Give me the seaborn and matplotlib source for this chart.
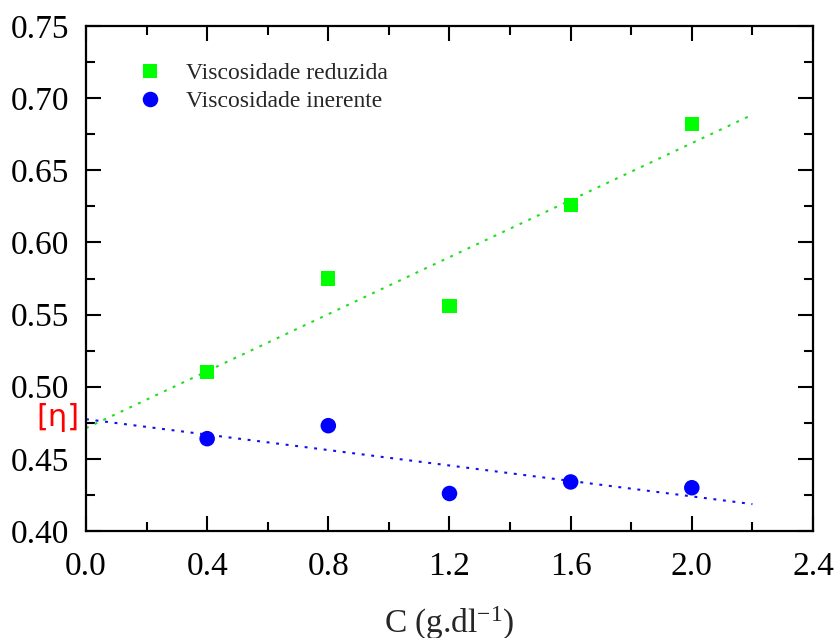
import numpy as np
import pandas as pd
import seaborn as sns
import matplotlib
matplotlib.use("Agg")
import matplotlib.pyplot as plt
from matplotlib.ticker import MultipleLocator

conc = [0.4, 0.8, 1.2, 1.6, 2.0]
visc_red = [0.510, 0.575, 0.556, 0.626, 0.682]
visc_ine = [0.464, 0.473, 0.426, 0.434, 0.430]
labels = ["Viscosidade reduzida", "Viscosidade inerente"]
fit_range = [0.0, 2.2]

sns.set_style("ticks")
plt.rcParams['font.family'] = ['Liberation Serif', 'DejaVu Serif']
plt.rcParams['mathtext.fontset'] = 'custom'
plt.rcParams['mathtext.rm'] = 'Liberation Serif'
plt.rcParams['mathtext.it'] = 'Liberation Serif:italic'

fig = plt.figure(figsize=(8.34, 6.38), dpi=100)
ax = fig.add_axes([0.1031, 0.1677, 0.8717, 0.7915])

df = pd.DataFrame({"C": conc * 2,
                   "v": visc_red + visc_ine,
                   "s": [labels[0]] * 5 + [labels[1]] * 5})

# fit lines
xf = np.array(fit_range)
for y, col in [(visc_red, "#22dd22"), (visc_ine, "#1010ee")]:
    p = np.polyfit(conc, y, 1)
    fdf = pd.DataFrame({"x": xf, "y": np.polyval(p, xf)})
    sns.lineplot(data=fdf, x="x", y="y", ax=ax, color=col, lw=1.5,
                 linestyle=(0, (1.4, 3.2)), legend=False)

sns.scatterplot(data=df, x="C", y="v", hue="s", style="s",
                palette=["#00ff00", "#0000ff"], markers=["s", "o"],
                size="s", sizes=[105, 125],
                linewidth=0, ax=ax, zorder=3)

ax.set_xlim(0, 2.4)
ax.set_ylim(0.40, 0.75)
ax.xaxis.set_major_locator(MultipleLocator(0.4))
ax.xaxis.set_minor_locator(MultipleLocator(0.2))
ax.yaxis.set_major_locator(MultipleLocator(0.05))
ax.yaxis.set_minor_locator(MultipleLocator(0.025))
ax.xaxis.set_major_formatter(matplotlib.ticker.FormatStrFormatter("%.1f"))
ax.yaxis.set_major_formatter(matplotlib.ticker.FormatStrFormatter("%.2f"))
ax.tick_params(which="both", direction="in", top=True, right=True, width=1.5,
               labelsize=24, colors="black")
ax.tick_params(which="major", length=11)
ax.tick_params(axis="x", which="major", pad=15)
ax.tick_params(axis="y", which="major", pad=12)
ax.tick_params(which="minor", length=6.5)
for sp in ax.spines.values():
    sp.set_linewidth(1.6)
    sp.set_color("black")

ax.set_xlabel("C (g.dl$^{\\mathrm{-1}}$)", fontsize=24, labelpad=16)
ax.set_ylabel("")

leg = ax.legend(loc="upper left", bbox_to_anchor=(0.043, 0.947), frameon=False,
                fontsize=17, handletextpad=0.5, labelspacing=0.3,
                borderaxespad=0.0)

fig.text(0.070, 0.345, "[η]", color="red", fontsize=22, ha="center", va="center",
         family="DejaVu Sans")

fig.savefig("out.png", dpi=100)
